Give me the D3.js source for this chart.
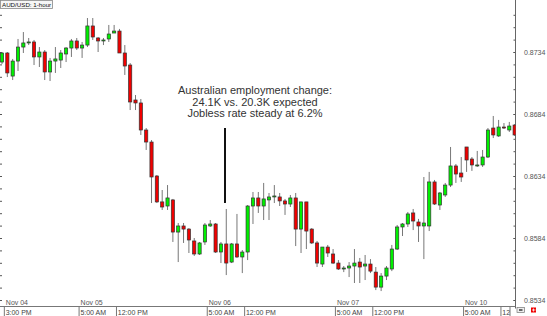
<!DOCTYPE html>
<html>
<head>
<meta charset="utf-8">
<script src="https://cdn.jsdelivr.net/npm/d3@7"></script>
<style>
  body { margin: 0; background: #fff; }
  svg { display: block; font-family: "Liberation Sans", Arial, sans-serif; }
</style>
</head>
<body>
<svg id="chart" width="547" height="316"></svg>
<script>
// AUD/USD hourly bars, Nov 04 3:00 PM through Nov 10 midday
const open = [
  0.87259, 0.87332, 0.87146, 0.87267, 0.87380, 0.87413, 0.87421, 0.87300, 0.87340, 0.87179,
  0.87267, 0.87275, 0.87324, 0.87372, 0.87429, 0.87372, 0.87396, 0.87550, 0.87453, 0.87429,
  0.87445, 0.87493, 0.87509, 0.87332, 0.87235, 0.86953, 0.86929, 0.86711, 0.86614, 0.86340,
  0.86131, 0.86098, 0.86147, 0.85888, 0.85937, 0.85912, 0.85816, 0.85711, 0.85808, 0.85937,
  0.85953, 0.85727, 0.85792, 0.85646, 0.85792, 0.85687, 0.85727, 0.86098, 0.86163, 0.86098,
  0.86147, 0.86171, 0.86171, 0.86139, 0.86114, 0.86163, 0.85912, 0.86131, 0.85912, 0.85800,
  0.85630, 0.85767, 0.85711, 0.85638, 0.85590, 0.85598, 0.85614, 0.85646, 0.85614, 0.85630,
  0.85565, 0.85444, 0.85533, 0.85590, 0.85751, 0.85929, 0.85953, 0.86042, 0.85969, 0.85937,
  0.85937, 0.86292, 0.86106, 0.86187, 0.86267, 0.86421, 0.86364, 0.86574, 0.86477, 0.86421,
  0.86429, 0.86493, 0.86727, 0.86663, 0.86735, 0.86711, 0.86751
];
const high = [
  0.87340, 0.87340, 0.87284, 0.87445, 0.87501, 0.87453, 0.87437, 0.87380, 0.87356, 0.87292,
  0.87380, 0.87356, 0.87380, 0.87445, 0.87453, 0.87421, 0.87614, 0.87614, 0.87461, 0.87453,
  0.87558, 0.87558, 0.87526, 0.87396, 0.87251, 0.86993, 0.86961, 0.86727, 0.86630, 0.86348,
  0.86227, 0.86267, 0.86155, 0.85961, 0.85961, 0.85920, 0.85840, 0.85808, 0.85961, 0.85985,
  0.85961, 0.85808, 0.86074, 0.85800, 0.86034, 0.85743, 0.86106, 0.86211, 0.86211, 0.86284,
  0.86203, 0.86267, 0.86203, 0.86155, 0.86187, 0.86203, 0.86131, 0.86131, 0.85920, 0.85816,
  0.85767, 0.85784, 0.85751, 0.85662, 0.85614, 0.85646, 0.85751, 0.85679, 0.85703, 0.85670,
  0.85606, 0.85557, 0.85614, 0.85784, 0.85945, 0.85961, 0.86050, 0.86074, 0.85994, 0.86332,
  0.86373, 0.86308, 0.86211, 0.86284, 0.86574, 0.86437, 0.86493, 0.86574, 0.86493, 0.86542,
  0.86550, 0.86727, 0.86824, 0.86792, 0.86767, 0.86776, 0.86759
];
const low = [
  0.87243, 0.87138, 0.87114, 0.87187, 0.87332, 0.87396, 0.87235, 0.87219, 0.87114, 0.87106,
  0.87171, 0.87211, 0.87259, 0.87300, 0.87356, 0.87292, 0.87380, 0.87437, 0.87340, 0.87396,
  0.87421, 0.87493, 0.87332, 0.87155, 0.86872, 0.86872, 0.86671, 0.86550, 0.86122, 0.86122,
  0.86066, 0.86066, 0.85808, 0.85646, 0.85800, 0.85719, 0.85695, 0.85703, 0.85784, 0.85929,
  0.85719, 0.85638, 0.85541, 0.85638, 0.85679, 0.85557, 0.85662, 0.85953, 0.86042, 0.85985,
  0.85985, 0.86122, 0.86098, 0.86026, 0.86090, 0.85775, 0.85719, 0.85751, 0.85792, 0.85606,
  0.85606, 0.85687, 0.85630, 0.85582, 0.85565, 0.85525, 0.85477, 0.85477, 0.85501, 0.85557,
  0.85420, 0.85412, 0.85501, 0.85573, 0.85743, 0.85856, 0.85929, 0.85904, 0.85808, 0.85670,
  0.85896, 0.86106, 0.86066, 0.86171, 0.86251, 0.86284, 0.86292, 0.86373, 0.86381, 0.86413,
  0.86413, 0.86485, 0.86646, 0.86655, 0.86719, 0.86695, 0.86663
];
const close = [
  0.87332, 0.87171, 0.87267, 0.87380, 0.87413, 0.87421, 0.87300, 0.87340, 0.87179, 0.87267,
  0.87284, 0.87332, 0.87372, 0.87429, 0.87372, 0.87396, 0.87550, 0.87461, 0.87429, 0.87437,
  0.87485, 0.87509, 0.87332, 0.87227, 0.86937, 0.86929, 0.86711, 0.86614, 0.86332, 0.86131,
  0.86090, 0.86163, 0.85888, 0.85937, 0.85912, 0.85824, 0.85711, 0.85800, 0.85945, 0.85953,
  0.85727, 0.85792, 0.85638, 0.85792, 0.85687, 0.85727, 0.86098, 0.86163, 0.86098, 0.86155,
  0.86171, 0.86179, 0.86139, 0.86114, 0.86163, 0.85912, 0.86131, 0.85896, 0.85800, 0.85638,
  0.85767, 0.85719, 0.85638, 0.85590, 0.85598, 0.85614, 0.85638, 0.85606, 0.85630, 0.85573,
  0.85444, 0.85533, 0.85598, 0.85751, 0.85929, 0.85953, 0.86034, 0.85977, 0.85937, 0.85961,
  0.86292, 0.86114, 0.86203, 0.86267, 0.86421, 0.86356, 0.86332, 0.86469, 0.86429, 0.86429,
  0.86493, 0.86711, 0.86671, 0.86735, 0.86727, 0.86743, 0.86671
];

const priceLabels = [0.8534, 0.8584, 0.8634, 0.8684, 0.8734];
const dateLabels = ['Nov 04', 'Nov 05', 'Nov 06', 'Nov 07', 'Nov 10'];
const dateBars = [0, 14, 38, 62, 86];
const timeLabels = ['3:00 PM', '5:00 AM', '12:00 PM', '5:00 AM', '12:00 PM', '5:00 AM', '12:00 PM', '5:00 AM', '12:00 PM'];
const timeBars = [0, 14, 21, 38, 45, 62, 69, 86, 93];
const noteLines = ['Australian employment change:', '24.1K vs. 20.3K expected', 'Jobless rate steady at 6.2%'];
const noteBar = 42;

const svg = d3.select('#chart');
const W = 547, H = 316;
const plotRight = 515.5, plotBottom = 306.5;

const bars = d3.range(open.length);
const step = 5.34;
const x = d3.scaleBand()
  .domain(bars)
  .range([-0.67, -0.67 + step * bars.length]);
const cx = i => x(i) + x.bandwidth() / 2;

const y = d3.scaleLinear()
  .domain([0.8534, 0.8734])
  .range([300, 52]);

svg.append('defs').append('clipPath').attr('id', 'plot-clip')
  .append('rect').attr('x', 0).attr('y', 0).attr('width', plotRight).attr('height', plotBottom);
svg.append('defs').append('clipPath').attr('id', 'time-clip')
  .append('rect').attr('x', 0).attr('y', plotBottom).attr('width', 510).attr('height', H - plotBottom);

// minor price ticks every 0.001
const minorTicks = d3.range(0, 24).map(k => +(0.8534 + k * 0.001).toFixed(4));

// right price axis
svg.append('g')
  .attr('transform', `translate(${plotRight},0)`)
  .call(d3.axisRight(y).tickValues(minorTicks).tickSize(-2).tickFormat(''))
  .call(g => g.select('.domain').remove())
  .call(g => g.selectAll('line').attr('stroke', '#555'));

svg.append('g')
  .attr('transform', `translate(${plotRight},0)`)
  .call(d3.axisRight(y).tickValues(priceLabels).tickSize(-2).tickPadding(8.5).tickFormat(d3.format('.4f')))
  .call(g => g.select('.domain').remove())
  .call(g => g.selectAll('line').attr('stroke', '#555'))
  .call(g => g.selectAll('text')
    .attr('font-family', '"Liberation Sans", Arial, sans-serif')
    .attr('font-size', 7)
    .attr('fill', '#555'));

// left edge ticks
svg.append('g')
  .attr('transform', 'translate(0,0)')
  .call(d3.axisLeft(y).tickValues(minorTicks).tickSize(-2).tickFormat(''))
  .call(g => g.select('.domain').remove())
  .call(g => g.selectAll('line').attr('stroke', '#555'));

svg.append('line')
  .attr('x1', plotRight).attr('x2', plotRight)
  .attr('y1', 0).attr('y2', plotBottom + 2)
  .attr('stroke', '#666');

// bottom rule
svg.append('line')
  .attr('x1', 0).attr('x2', plotRight)
  .attr('y1', plotBottom).attr('y2', plotBottom)
  .attr('stroke', '#777');

// candles
const plot = svg.append('g').attr('clip-path', 'url(#plot-clip)');
const candle = plot.selectAll('.candle')
  .data(bars)
  .enter()
  .append('g')
  .attr('class', 'candle');

candle.append('line')
  .attr('x1', i => cx(i)).attr('x2', i => cx(i))
  .attr('y1', i => y(high[i]))
  .attr('y2', i => y(low[i]))
  .attr('stroke', '#777')
  .attr('stroke-width', 1);

const bodyW = 3.2;
candle.append('rect')
  .attr('x', i => cx(i) - bodyW / 2)
  .attr('y', i => y(Math.max(open[i], close[i])))
  .attr('width', bodyW)
  .attr('height', i => Math.max(1, Math.abs(y(open[i]) - y(close[i]))))
  .attr('fill', i => close[i] >= open[i] ? '#00f000' : '#f00000')
  .attr('stroke', '#333')
  .attr('stroke-width', 0.7);

// date labels (just above the rule)
svg.append('g').selectAll('text')
  .data(dateLabels)
  .enter()
  .append('text')
  .attr('x', (d, k) => x(dateBars[k]) + 6.5)
  .attr('y', 305.3)
  .attr('font-size', 7)
  .attr('fill', '#555')
  .text(d => d);

// time row
const timeRow = svg.append('g').attr('clip-path', 'url(#time-clip)');
timeRow.selectAll('line')
  .data(timeBars)
  .enter()
  .append('line')
  .attr('x1', i => x(i) + 5).attr('x2', i => x(i) + 5)
  .attr('y1', plotBottom).attr('y2', H)
  .attr('stroke', '#777');
timeRow.selectAll('text')
  .data(timeLabels)
  .enter()
  .append('text')
  .attr('x', (d, k) => x(timeBars[k]) + 6.3)
  .attr('y', 314.6)
  .attr('font-size', 7)
  .attr('fill', '#444')
  .text(d => d);
svg.append('line')
  .attr('x1', 510).attr('x2', 510)
  .attr('y1', plotBottom).attr('y2', H)
  .attr('stroke', '#777');

// little toolbar icons bottom right
svg.append('rect')
  .attr('x', 517).attr('y', 307.5).attr('width', 7.5).attr('height', 5)
  .attr('fill', '#eee').attr('stroke', '#777').attr('stroke-width', 0.7);
svg.append('rect')
  .attr('x', 519).attr('y', 309).attr('width', 3.5).attr('height', 2)
  .attr('fill', '#666');
svg.append('rect')
  .attr('x', 531).attr('y', 307.5).attr('width', 5).attr('height', 5)
  .attr('fill', '#e00');
svg.append('path')
  .attr('d', 'M532,310 H535.5 M533.5,308.5 V311.5')
  .attr('stroke', '#fff').attr('stroke-width', 0.8);

// symbol box top-left
svg.append('rect')
  .attr('x', 0.5).attr('y', 0.5).attr('width', 52).attr('height', 8)
  .attr('fill', '#f6f6f6').attr('stroke', '#888').attr('stroke-width', 0.8);
svg.append('text')
  .attr('x', 2).attr('y', 7)
  .attr('font-size', 6.2)
  .attr('fill', '#111')
  .text('AUD/USD: 1-hour');

// annotation
svg.append('g').selectAll('text')
  .data(noteLines)
  .enter()
  .append('text')
  .attr('x', 255)
  .attr('y', (d, k) => 94 + k * 11.6)
  .attr('text-anchor', 'middle')
  .attr('font-size', 11)
  .attr('fill', '#333')
  .text(d => d);

svg.append('line')
  .attr('x1', cx(noteBar) - 1.3).attr('x2', cx(noteBar) - 1.3)
  .attr('y1', 128)
  .attr('y2', y(high[noteBar]) - 6)
  .attr('stroke', '#111')
  .attr('stroke-width', 2);
</script>
</body>
</html>
